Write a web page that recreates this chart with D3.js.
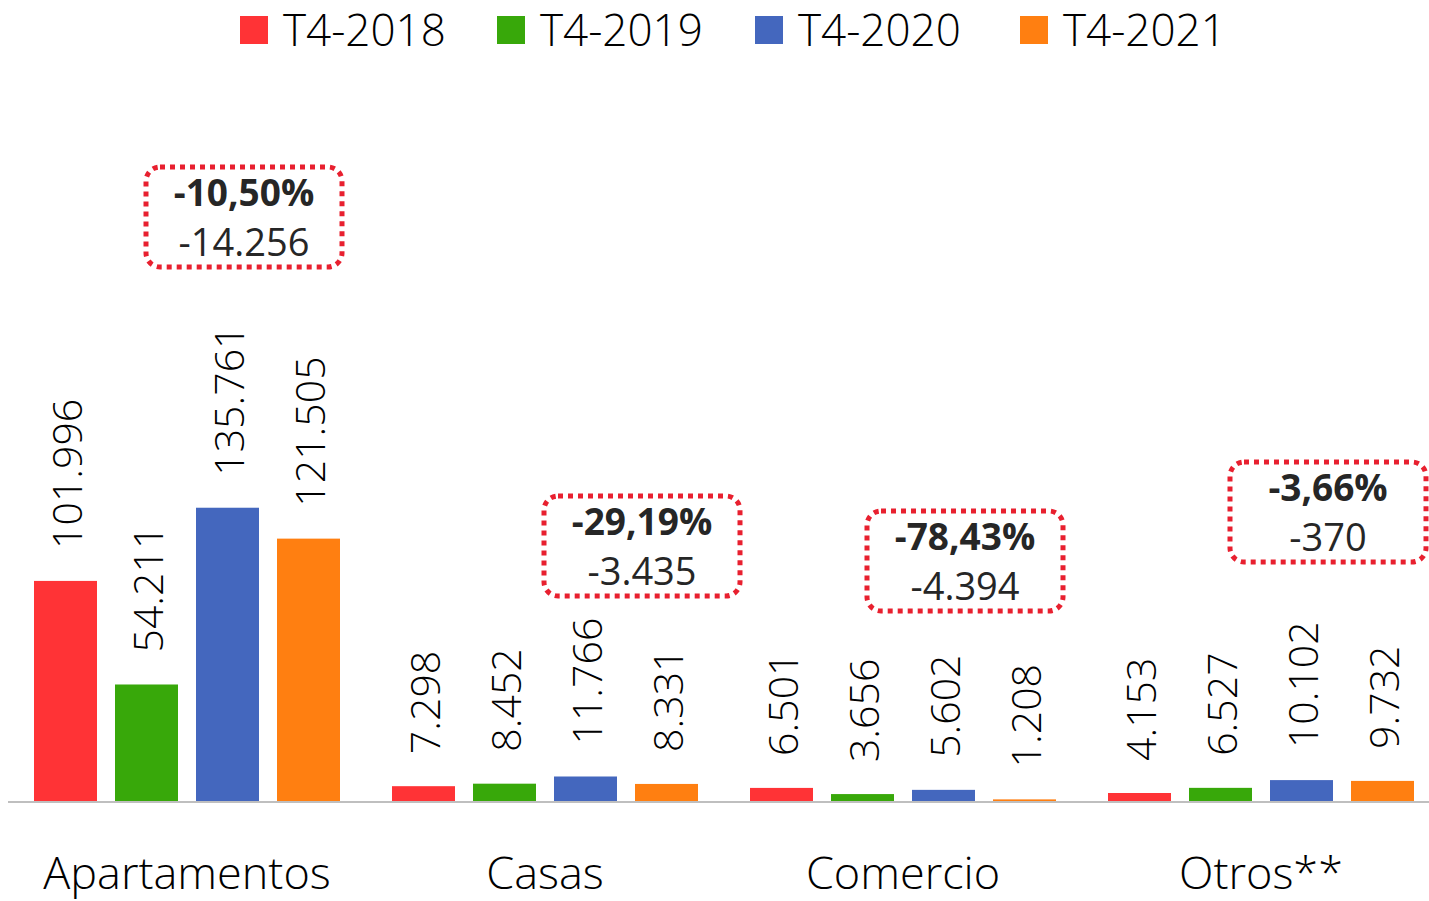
<!DOCTYPE html>
<html>
<head>
<meta charset="utf-8">
<script src="https://cdn.jsdelivr.net/npm/d3@7"></script>
<style>
  body { margin: 0; background: #fff; }
  svg { display: block; font-family: "Open Sans", sans-serif; }
  .bar-label { font-size: 41px; font-weight: 350; fill: #000; }
  .cat-label { font-size: 45px; font-weight: 350; fill: #000; }
  .legend-label { font-size: 44px; font-weight: 350; fill: #000; }
  .anno-pct { font-size: 37px; font-weight: 700; fill: #262626; }
  .anno-diff { font-size: 38px; font-weight: 400; fill: #262626; }
</style>
</head>
<body>
<svg id="chart" width="1429" height="901"></svg>
<script>
const categories = ['Apartamentos', 'Casas', 'Comercio', 'Otros**'];
const seriesNames = ['T4-2018', 'T4-2019', 'T4-2020', 'T4-2021'];
const colors = ['#ff3336', '#38a80a', '#4467be', '#ff7f11'];

const t4_2018 = [101996, 7298, 6501, 4153];
const t4_2019 = [54211, 8452, 3656, 6527];
const t4_2020 = [135761, 11766, 5602, 10102];
const t4_2021 = [121505, 8331, 1208, 9732];
const seriesValues = [t4_2018, t4_2019, t4_2020, t4_2021];

// variation T4-2021 vs T4-2020
const annoPct = ['-10,50%', '-29,19%', '-78,43%', '-3,66%'];
const annoDiff = ['-14.256', '-3.435', '-4.394', '-370'];
// box placement: x offset from group centre, top y in px
const annoDx = [57, 97, 62, 67];
const annoTop = [167, 496, 511, 462];

const fmt = v => d3.format(',')(v).replace(/,/g, '.');

const svg = d3.select('#chart');
const baseY = 802;

const x0 = d3.scaleBand()
    .domain(categories)
    .range([8, 1440])
    .paddingInner(0)
    .paddingOuter(0);

const x1 = d3.scaleBand()
    .domain(seriesNames)
    .range([26, x0.bandwidth() - 26])
    .paddingInner(18 / 81)
    .paddingOuter(0);

const y = d3.scaleLinear()
    .domain([0, 370000])
    .range([baseY, 0]);

const rows = categories.flatMap((cat, ci) => seriesNames.map((s, si) => ({
    cat, s, si, value: seriesValues[si][ci]
})));

const bars = svg.append('g')
    .selectAll('g')
    .data(rows)
    .enter()
    .append('g')
    .attr('transform', d => `translate(${x0(d.cat) + x1(d.s)}, 0)`);

bars.append('rect')
    .attr('x', 0)
    .attr('width', x1.bandwidth())
    .attr('y', d => y(d.value))
    .attr('height', d => baseY - y(d.value))
    .attr('fill', d => colors[d.si]);

bars.append('text')
    .attr('class', 'bar-label')
    .attr('transform', d => `translate(${x1.bandwidth() / 2 + 2}, ${y(d.value) - 32}) rotate(-90)`)
    .attr('dy', '0.36em')
    .text(d => fmt(d.value));

// baseline
svg.append('line')
    .attr('x1', 8).attr('x2', 1429)
    .attr('y1', baseY).attr('y2', baseY)
    .attr('stroke', '#bfbfbf')
    .attr('stroke-width', 2);

// category labels
svg.append('g')
    .selectAll('text')
    .data(categories)
    .enter()
    .append('text')
    .attr('class', 'cat-label')
    .attr('x', d => x0(d) + x0.bandwidth() / 2)
    .attr('y', 889)
    .attr('text-anchor', 'middle')
    .text(d => d);

// annotations
const anno = svg.append('g')
    .selectAll('g')
    .data(categories)
    .enter()
    .append('g')
    .attr('transform', (d, i) => `translate(${x0(d) + x0.bandwidth() / 2 + annoDx[i]}, ${annoTop[i]})`);

anno.append('rect')
    .attr('x', -98).attr('y', 0)
    .attr('width', 196).attr('height', 100)
    .attr('rx', 14)
    .attr('fill', '#fff')
    .attr('stroke', '#e8202f')
    .attr('stroke-width', 5)
    .attr('stroke-dasharray', '5 5');

anno.append('text')
    .attr('class', 'anno-pct')
    .attr('text-anchor', 'middle')
    .attr('y', 39)
    .text((d, i) => annoPct[i]);

anno.append('text')
    .attr('class', 'anno-diff')
    .attr('text-anchor', 'middle')
    .attr('y', 89)
    .text((d, i) => annoDiff[i]);

// legend
const legendX = [240, 497, 755, 1020];
const legend = svg.append('g')
    .selectAll('g')
    .data(seriesNames)
    .enter()
    .append('g')
    .attr('transform', (d, i) => `translate(${legendX[i]}, 16)`);

legend.append('rect')
    .attr('width', 28).attr('height', 28)
    .attr('fill', (d, i) => colors[i]);

legend.append('text')
    .attr('class', 'legend-label')
    .attr('x', 43)
    .attr('y', 30)
    .text(d => d);
</script>
</body>
</html>
